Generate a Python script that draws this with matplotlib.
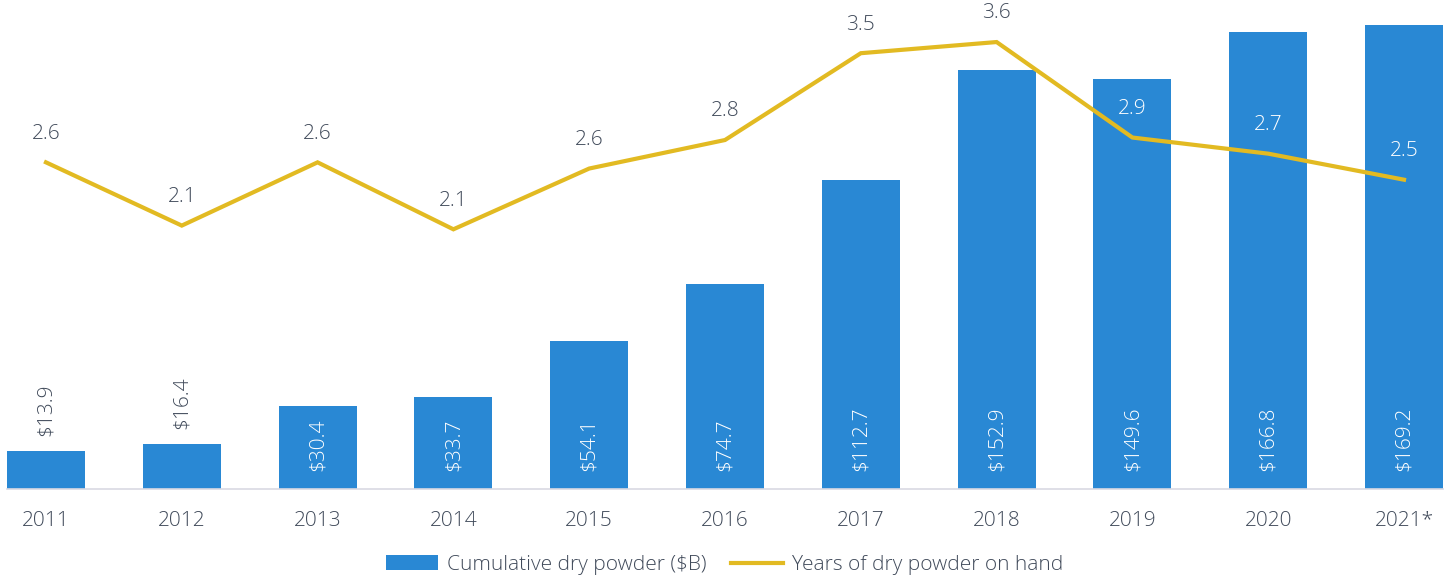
import matplotlib
matplotlib.use("Agg")
import matplotlib.pyplot as plt
import numpy as np

years = ["2011", "2012", "2013", "2014", "2015", "2016", "2017", "2018", "2019", "2020", "2021*"]
dry_powder = [13.9, 16.4, 30.4, 33.7, 54.1, 74.7, 112.7, 152.9, 149.6, 166.8, 169.2]
years_on_hand = [2.61, 2.10, 2.61, 2.07, 2.56, 2.79, 3.49, 3.58, 2.81, 2.68, 2.47]
years_labels = ["2.6", "2.1", "2.6", "2.1", "2.6", "2.8", "3.5", "3.6", "2.9", "2.7", "2.5"]

BAR_C = "#2988D4"
LINE_C = "#E2BA22"
TXT_C = "#404A5A"
FS = 15
FW = "light"

plt.rcParams['font.family'] = ['Open Sans', 'DejaVu Sans']

W, H = 1449, 581
fig = plt.figure(figsize=(W / 100, H / 100), dpi=100)
left_px, right_px, top_px, base_px = 7, 1443, 0, 489
ax = fig.add_axes([left_px / W, (H - base_px) / H, (right_px - left_px) / W, (base_px - top_px) / H])
ax2 = ax.twinx()

x = np.arange(len(years))
bars = ax.bar(x, dry_powder, width=0.575, color=BAR_C, label="Cumulative dry powder ($B)", zorder=2)
ax.set_xlim(-0.287, 10.287)
ax.set_ylim(0, 178.3)
ax2.set_ylim(-0.024, 3.919)

line, = ax2.plot(x, years_on_hand, color=LINE_C, lw=3, solid_joinstyle='miter',
                 label="Years of dry powder on hand", zorder=3)

for a in (ax, ax2):
    for s in ("top", "right", "left"):
        a.spines[s].set_visible(False)
    a.set_yticks([])
ax2.spines["bottom"].set_visible(False)
ax.spines["bottom"].set_color("#D9D9E3")
ax.spines["bottom"].set_linewidth(1.2)
ax.set_xticks(x)
ax.set_xticklabels(years, fontsize=FS, color=TXT_C, fontweight=FW)
ax.tick_params(axis='x', length=0, pad=16)

# bar labels
for xi, v in zip(x, dry_powder):
    txt = f"${v:.1f}"
    if v > 25:
        ax.annotate(txt, (xi, 0), xytext=(0, 13), textcoords="offset points",
                    rotation=90, ha="center", va="bottom", fontsize=FS, fontweight=FW,
                    color="white", zorder=4)
    else:
        ax.annotate(txt, (xi, v), xytext=(0, 11), textcoords="offset points",
                    rotation=90, ha="center", va="bottom", fontsize=FS, fontweight=FW,
                    color=TXT_C, zorder=4)

# line labels
fig.canvas.draw()
for xi, v, lab, bv in zip(x, years_on_hand, years_labels, dry_powder):
    disp = ax2.transData.transform((xi, v))
    lab_disp_y = disp[1] + 17 * 100 / 72 + 8
    bar_top = ax.transData.transform((xi, bv))[1]
    col = "white" if lab_disp_y < bar_top else TXT_C
    ax2.annotate(lab, (xi, v), xytext=(0, 17), textcoords="offset points",
                 ha="center", va="baseline", fontsize=FS, fontweight=FW, color=col, zorder=5)

fig.legend(handles=[bars, line], loc="lower center", bbox_to_anchor=(0.5, -0.022), ncol=2,
           frameon=False, handlelength=2.5, handletextpad=0.4,
           columnspacing=1.2, labelcolor=TXT_C,
           prop={"size": FS, "weight": FW})

fig.savefig("out.png", dpi=100)
